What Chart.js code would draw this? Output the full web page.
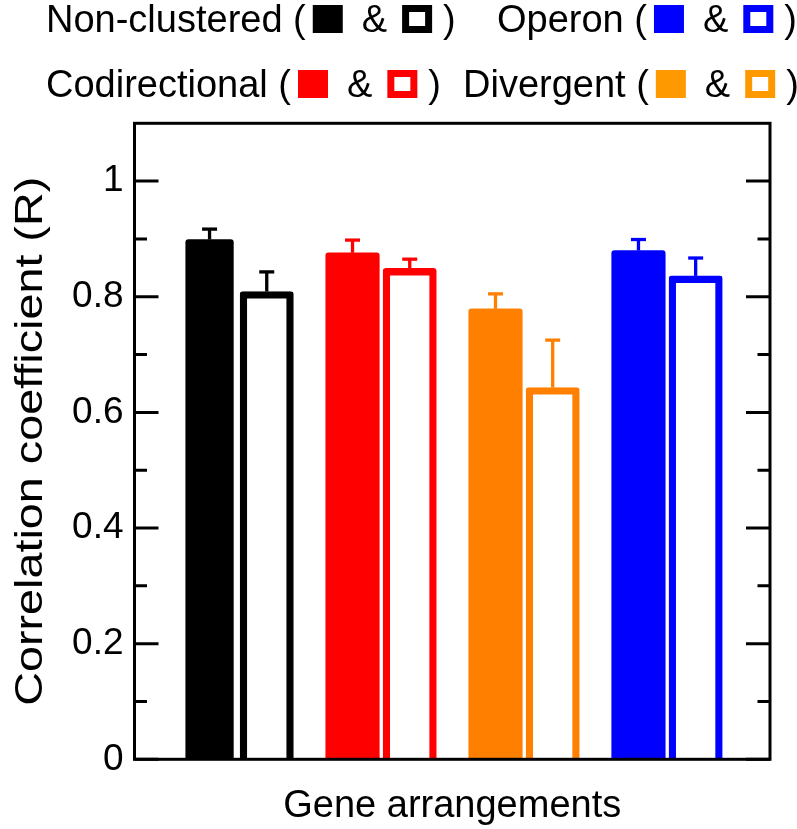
<!DOCTYPE html>
<html>
<head>
<meta charset="utf-8">
<script src="https://cdn.jsdelivr.net/npm/chart.js@4.4.1/dist/chart.umd.min.js"></script>
<style>
  html, body { margin: 0; padding: 0; background: #fff; }
  #wrap { position: relative; width: 797px; height: 829px; }
</style>
</head>
<body>
<div id="wrap"><canvas id="chart" width="797" height="829"></canvas></div>
<script>
// gene arrangement groups, in the order they sit on the x axis
const groups = ['Non-clustered', 'Codirectional', 'Divergent', 'Operon'];
const groupColors = ['#000000', '#ff0000', '#ff8000', '#0000ff'];
const legendColors = ['#000000', '#ff0000', '#ff9900', '#0000ff'];

// filled bar (left of each pair) and open bar (right of each pair)
const filledValues = [0.899, 0.876, 0.779, 0.880];
const filledErrors = [0.018, 0.022, 0.026, 0.019];
const hollowValues = [0.809, 0.849, 0.643, 0.836];
const hollowErrors = [0.034, 0.016, 0.082, 0.031];

// y axis
const yTickValues = [0, 0.2, 0.4, 0.6, 0.8, 1];
const yTickLabels = ['0', '0.2', '0.4', '0.6', '0.8', '1'];
const yMinorTicks = [0.1, 0.3, 0.5, 0.7, 0.9];

const FONT = '"Liberation Sans", Arial, Helvetica, sans-serif';

const datasets = [];
groups.forEach((g, i) => {
    datasets.push({
        label: g + ' (filled)',
        data: [{ x: i - 0.2, y: filledValues[i] }],
        errors: [filledErrors[i]],
        backgroundColor: groupColors[i],
        borderWidth: 0,
        borderRadius: 3,
        barThickness: i === 0 ? 47.6 : 53.5,
        grouped: false
    });
    datasets.push({
        label: g + ' (open)',
        data: [{ x: i + 0.2, y: hollowValues[i] }],
        errors: [hollowErrors[i]],
        backgroundColor: '#ffffff',
        borderColor: groupColors[i],
        borderWidth: 7.3,
        borderSkipped: 'start',
        borderRadius: 3,
        barThickness: 53.3,
        grouped: false
    });
});

// рамка, внутренние засечки, усы ошибок, подписи осей и легенда
const decorations = {
    id: 'decorations',
    beforeDraw(chart) {
        const ctx = chart.ctx;
        ctx.save();
        ctx.fillStyle = '#fff';
        ctx.fillRect(0, 0, chart.width, chart.height);
        ctx.restore();
    },
    afterDatasetsDraw(chart) {
        const ctx = chart.ctx;
        const area = chart.chartArea;
        const yScale = chart.scales.y;
        ctx.save();

        // error bars (upper only)
        chart.data.datasets.forEach((ds, di) => {
            const meta = chart.getDatasetMeta(di);
            meta.data.forEach((el, j) => {
                const v = ds.data[j].y;
                const yCap = yScale.getPixelForValue(v + ds.errors[j]);
                ctx.strokeStyle = ds.borderWidth ? ds.borderColor : ds.backgroundColor;
                ctx.lineWidth = 3.3;
                ctx.lineCap = 'butt';
                ctx.beginPath();
                ctx.moveTo(el.x, el.y);
                ctx.lineTo(el.x, yCap);
                ctx.stroke();
                ctx.beginPath();
                ctx.moveTo(el.x - 7.5, yCap);
                ctx.lineTo(el.x + 7.5, yCap);
                ctx.stroke();
            });
        });

        // frame
        ctx.strokeStyle = '#000';
        ctx.lineWidth = 3;
        ctx.strokeRect(area.left, area.top, area.right - area.left, area.bottom - area.top);

        // inward ticks on both sides
        const tick = (v, len) => {
            const y = yScale.getPixelForValue(v);
            ctx.beginPath();
            ctx.moveTo(area.left, y); ctx.lineTo(area.left + len, y);
            ctx.moveTo(area.right, y); ctx.lineTo(area.right - len, y);
            ctx.stroke();
        };
        yTickValues.forEach(v => tick(v, 24));
        yMinorTicks.forEach(v => tick(v, 12.5));

        // axis titles
        ctx.fillStyle = '#000';
        ctx.font = '38px ' + FONT;
        ctx.textAlign = 'center';
        ctx.textBaseline = 'alphabetic';
        ctx.fillText('Gene arrangements', (area.left + area.right) / 2, 817);
        ctx.save();
        ctx.translate(42, (area.top + area.bottom) / 2);
        ctx.rotate(-Math.PI / 2);
        ctx.scale(1.23, 1);
        ctx.fillText('Correlation coefficient (R)', 0, 0);
        ctx.restore();

        // legend: two rows, two entries each
        const rows = [[0, 3], [1, 2]];
        const rowX = [[46, 497], [46, 463]];
        const rowBase = [32, 97];
        ctx.textAlign = 'left';
        rows.forEach((row, r) => {
            row.forEach((gi, k) => {
                let x = rowX[r][k];
                const base = rowBase[r];
                const col = legendColors[gi];
                const head = groups[gi] + ' (';
                ctx.fillStyle = '#000';
                ctx.fillText(head, x, base);
                x += ctx.measureText(head).width + 7;
                ctx.fillStyle = col;
                ctx.fillRect(x, base - 27, 30, 28);
                x += 30 + 19;
                ctx.fillStyle = '#000';
                ctx.fillText('&', x, base);
                x += ctx.measureText('&').width + 15;
                ctx.fillStyle = col;
                ctx.fillRect(x, base - 27, 30, 28);
                ctx.fillStyle = '#fff';
                ctx.fillRect(x + 7, base - 20, 16, 14);
                x += 30 + 11;
                ctx.fillStyle = '#000';
                ctx.fillText(')', x, base);
            });
        });
        ctx.restore();
    }
};

new Chart(document.getElementById('chart'), {
    type: 'bar',
    data: { datasets },
    options: {
        responsive: false,
        animation: false,
        layout: { padding: { left: 0, right: 27, top: 123.3, bottom: 69.7 } },
        plugins: { legend: { display: false }, tooltip: { enabled: false } },
        scales: {
            x: { type: 'linear', min: -0.725, max: 3.72, offset: false, display: false },
            y: {
                min: 0,
                max: 1.1,
                afterFit: s => { s.width = 134.5; },
                afterBuildTicks: s => { s.ticks = yTickValues.map(v => ({ value: v })); },
                grid: { display: false },
                border: { display: false },
                ticks: {
                    padding: 3,
                    color: '#000',
                    font: { family: FONT, size: 37 },
                    callback: (v, i) => yTickLabels[i]
                }
            }
        }
    },
    plugins: [decorations]
});
</script>
</body>
</html>
